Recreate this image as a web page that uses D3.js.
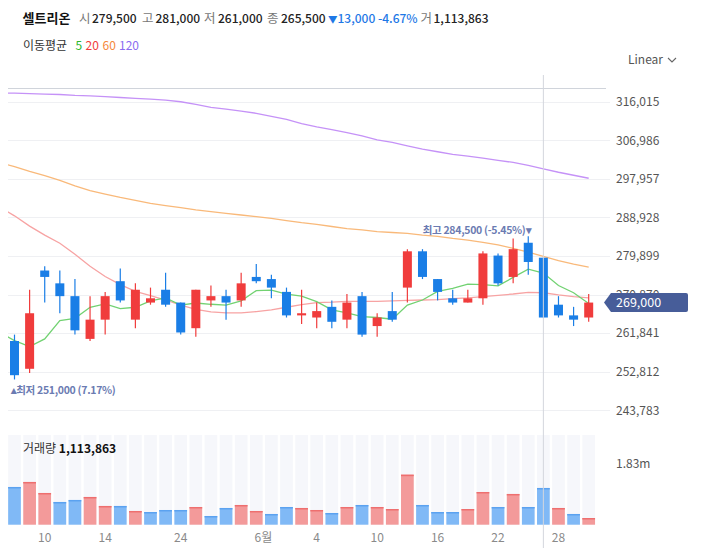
<!DOCTYPE html>
<html><head><meta charset="utf-8">
<script src="https://cdn.jsdelivr.net/npm/d3@7"></script>
<style>
body{margin:0;background:#fff;}
svg{display:block;font-family:"Noto Sans CJK KR","Noto Sans",sans-serif;}
</style>
</head><body>
<svg id="c" width="703" height="548"></svg>
<script>
// ---------- data ----------
const opens  = [260000,253500,276500,273500,270500,260500,265000,274000,265000,269000,272000,269000,263000,269500,270500,269500,275000,274500,271500,266000,265500,268000,265000,270500,263500,267000,272500,281000,274500,270000,269000,270000,280000,275000,283000,279500,268500,266000,265500];
const highs  = [261500,272000,277500,276500,274500,270500,271500,277000,273500,272500,276000,269000,272000,273000,272000,276000,278000,275500,272500,272000,269000,269500,271000,271500,266500,271500,281500,281500,274500,272000,272000,281000,280500,284000,284500,279500,270500,268000,271000];
const lows   = [251000,252500,269000,266500,261500,260000,261500,269000,263000,268500,268000,261500,261000,268000,265000,268000,273500,270000,265500,264000,263000,263000,263000,261000,261000,264500,269000,274500,269500,268500,269000,268500,273000,273500,275500,265500,265500,263500,264500];
const closes = [252000,266500,275000,270500,262500,265000,270500,269500,272000,270000,268500,262000,272000,270500,269000,273500,274000,272500,266000,266500,267000,264500,269000,261500,265500,265000,281000,275000,271500,269000,270000,280500,273500,281500,278500,265500,266000,265000,269000];
const volumes = [1144000,1296000,962000,689000,750000,841000,568000,568000,416000,385000,446000,446000,537000,264000,507000,598000,416000,325000,537000,507000,446000,355000,537000,598000,537000,476000,1517000,598000,385000,385000,476000,992000,537000,932000,537000,1113863,507000,325000,203000];
const volumeUp = [0,1,1,0,0,1,1,0,1,0,0,0,1,0,0,1,1,0,0,1,1,0,1,0,1,1,1,0,0,0,1,1,0,1,0,0,1,0,1];
// moving averages: first value belongs to the (hidden) session before the first candle
const ma5   = [262000,260100,258700,260500,264800,265300,267900,268700,267600,267900,269400,270100,268400,268900,268600,268400,269400,271800,271900,271000,270500,269200,267300,266600,265700,265500,265100,268400,269600,271600,272300,273300,273200,272900,274900,276800,275900,273000,271300,268800];
const ma20  = [291400,289300,286900,284800,282900,280300,277500,275100,273200,271600,270600,269600,268400,267400,266800,266600,266600,266900,267300,267900,268500,269000,269100,269300,269300,269300,269400,269500,269600,269700,269900,270100,270400,270700,271000,271400,271300,270800,270400,270100];
const ma60  = [301800,300800,299700,298700,297600,296300,295200,294400,293600,292900,292200,291700,291200,290700,290300,289900,289500,289100,288700,288200,287700,287300,286800,286300,286000,285600,285400,285200,284800,284500,284000,283600,283100,282500,281700,280800,279800,278800,278000,277300];
const ma120 = [318100,318000,317900,317800,317700,317500,317400,317200,317000,316800,316600,316400,316000,315400,314700,314300,313800,313300,312600,311900,310900,310100,309500,308800,308000,307100,306500,305700,304900,304300,303700,303300,302800,302300,301800,301100,300300,299500,298800,298100];
const priceTicks = [316015,306986,297957,288928,279899,270870,261841,252812,243783];
const xTickIndex  = [2,6,11,16.47,20,24,28,32,36];
const xTickLabels = ["10","14","24","6월","4","10","16","22","28"];
const volTicks = [1830000];
const volTickLabels = ["1.83m"];
const hoverIndex = 35;
const header = {name:"셀트리온", open:"279,500", high:"281,000", low:"261,000", close:"265,500", change:"13,000 -4.67%", vol:"1,113,863"};

// ---------- layout ----------
const svg = d3.select("#c");
const plotL = 8, plotR = 606;
const x = d3.scaleLinear().domain([0, 38]).range([14.5, 588.7]);
const y = d3.scaleLinear().domain([243783, 316015]).range([410.3, 101.7]);
const yv = d3.scaleLinear().domain([0, 2720000]).range([524.7, 435]);
const UP = "#f03c3c", DOWN = "#1a7ee6";

svg.append("rect").attr("width",703).attr("height",548).attr("fill","#fff");

// header
const h = svg.append("g");
const hp = [
  [22.5, header.name, "#111", 700, 13],
  [79, "시", "#777", 400, 12.5],[92, header.open, "#222", 500, 12],
  [142, "고", "#777", 400, 12.5],[155.5, header.high, "#222", 500, 12],
  [204, "저", "#777", 400, 12.5],[218, header.low, "#222", 500, 12],
  [267, "종", "#777", 400, 12.5],[281, header.close, "#222", 500, 12],
  [328, "▼", "#1e78e6", 400, 9.5],[337.5, header.change, "#1e78e6", 500, 12],
  [420.5, "거", "#777", 400, 12.5],[433.5, header.vol, "#222", 500, 12]
];
hp.forEach(d => h.append("text").attr("x", d[0]).attr("y", 23).attr("fill", d[2])
  .attr("font-weight", d[3]).attr("font-size", d[4]).text(d[1]));

// legend
const lg = svg.append("g").attr("font-size", 12);
[[23,"이동평균","#333"],[75.5,"5","#2db82d"],[85.5,"20","#f03c3c"],[102.5,"60","#f5883a"],[119,"120","#8b6cf0"]]
  .forEach(d => lg.append("text").attr("x", d[0]).attr("y", 50).attr("fill", d[2]).text(d[1]));

svg.append("text").attr("x", 628).attr("y", 64).attr("font-size", 12).attr("fill", "#555").text("Linear");
svg.append("path").attr("d","M668,58 L672,62 L676,58").attr("fill","none").attr("stroke","#666").attr("stroke-width",1.1);

// grid
svg.append("g").selectAll("line").data(priceTicks).join("line")
  .attr("x1", plotL).attr("x2", plotR + 4)
  .attr("y1", d => Math.round(y(d)) + 0.5).attr("y2", d => Math.round(y(d)) + 0.5)
  .attr("stroke", "#eff0f3");
svg.append("line").attr("x1", plotL).attr("x2", plotR).attr("y1", 88.5).attr("y2", 88.5).attr("stroke", "#d0d4db");

// y axis
const yAxis = d3.axisRight(y).tickValues(priceTicks).tickFormat(d3.format(",")).tickSize(0).tickPadding(0);
const ya = svg.append("g").attr("transform", "translate(616,0)").call(yAxis);
ya.select(".domain").remove();
ya.selectAll("text").attr("font-size", 12).attr("fill", "#555").attr("font-family", "Noto Sans CJK KR, sans-serif");

// clip
svg.append("clipPath").attr("id","clip").append("rect").attr("x", plotL).attr("y", 89).attr("width", plotR - plotL).attr("height", 335);

// MA lines (index shifted by -1)
const maLine = d3.line().x((d, i) => x(i - 1)).y(d => y(d));
const mas = [[ma120,"#c592f7"],[ma60,"#f9b97a"],[ma20,"#f7a3a3"],[ma5,"#72d272"]];
const mg = svg.append("g").attr("clip-path","url(#clip)");
mas.forEach(m => mg.append("path").attr("d", maLine(m[0])).attr("fill","none")
  .attr("stroke", m[1]).attr("stroke-width", 1.3));

// candles
const idx = d3.range(closes.length);
const cg = svg.append("g");
cg.selectAll("line").data(idx).join("line")
  .attr("x1", i => x(i)).attr("x2", i => x(i))
  .attr("y1", i => y(highs[i])).attr("y2", i => y(lows[i]))
  .attr("stroke", i => closes[i] >= opens[i] ? UP : DOWN).attr("stroke-width", 1.2);
cg.selectAll("rect").data(idx).join("rect")
  .attr("x", i => x(i) - 4.5).attr("width", 9)
  .attr("y", i => y(Math.max(opens[i], closes[i])))
  .attr("height", i => Math.max(1, Math.abs(y(opens[i]) - y(closes[i]))))
  .attr("fill", i => closes[i] >= opens[i] ? UP : DOWN);

// high / low annotations
const last = closes[closes.length - 1];
const hiV = d3.max(highs), hiI = highs.indexOf(hiV);
const loV = d3.min(lows), loI = lows.indexOf(loV);
const pct = v => ((last - v) / v * 100).toFixed(2) + "%";
svg.append("text").attr("x", x(hiI) + 3).attr("y", y(hiV) - 2).attr("text-anchor","end")
  .attr("font-size", 10.5).attr("font-weight", 700).attr("letter-spacing", -0.3).attr("fill", "#6b7bb2")
  .text("최고 " + d3.format(",")(hiV) + " (" + pct(hiV) + ")▾");
svg.append("text").attr("x", x(loI) - 4).attr("y", y(loV) + 14.5)
  .attr("font-size", 10.5).attr("font-weight", 700).attr("letter-spacing", -0.3).attr("fill", "#6b7bb2")
  .text("▴최저 " + d3.format(",")(loV) + " (" + pct(loV) + ")");

// last price tag
const ty = y(last);
svg.append("path").attr("d", `M604,${ty} L611,${ty-9.5} L686,${ty-9.5} Q688,${ty-9.5} 688,${ty-7.5} L688,${ty+7.5} Q688,${ty+9.5} 686,${ty+9.5} L611,${ty+9.5} Z`)
  .attr("fill", "#475d99");
svg.append("text").attr("x", 616).attr("y", ty + 4.5).attr("font-size", 12.5).attr("fill", "#fff")
  .text(d3.format(",")(last));

// volume panel
const vg = svg.append("g");
vg.selectAll("rect.bg").data(idx).join("rect").attr("class","bg")
  .attr("x", i => x(i) - 6.35).attr("width", 12.7).attr("y", 435).attr("height", 89.7).attr("fill", "#f6f7fb");
vg.selectAll("rect.v").data(idx).join("rect").attr("class","v")
  .attr("x", i => x(i) - 6.35).attr("width", 12.7)
  .attr("y", i => yv(volumes[i])).attr("height", i => yv(0) - yv(volumes[i]))
  .attr("fill", i => volumeUp[i] ? "#f39a9a" : "#80b9f6");
vg.selectAll("rect.t").data(idx).join("rect").attr("class","t")
  .attr("x", i => x(i) - 6.35).attr("width", 12.7)
  .attr("y", i => yv(volumes[i])).attr("height", 1.5)
  .attr("fill", i => volumeUp[i] ? "#ee6f6f" : "#5ba2f0");

const vt = svg.append("g").attr("font-size", 12);
vt.append("text").attr("x", 23).attr("y", 453).attr("fill", "#333").text("거래량 ")
  .append("tspan").attr("font-weight", 700).attr("fill", "#111").text(header.vol);
volTicks.forEach((v, k) => svg.append("text").attr("x", 616).attr("y", yv(v) + 4)
  .attr("font-size", 12).attr("fill", "#555").text(volTickLabels[k]));

// x axis labels
svg.append("g").selectAll("text").data(xTickIndex).join("text")
  .attr("x", d => x(d)).attr("y", 541.5).attr("text-anchor", "middle")
  .attr("font-size", 12).attr("fill", "#8a8a8a").text((d, k) => xTickLabels[k]);

// crosshair
svg.append("line").attr("x1", x(hoverIndex)).attr("x2", x(hoverIndex)).attr("y1", 75).attr("y2", 548)
  .attr("stroke", "#d3d6dd").attr("stroke-width", 1);
</script>
</body></html>
